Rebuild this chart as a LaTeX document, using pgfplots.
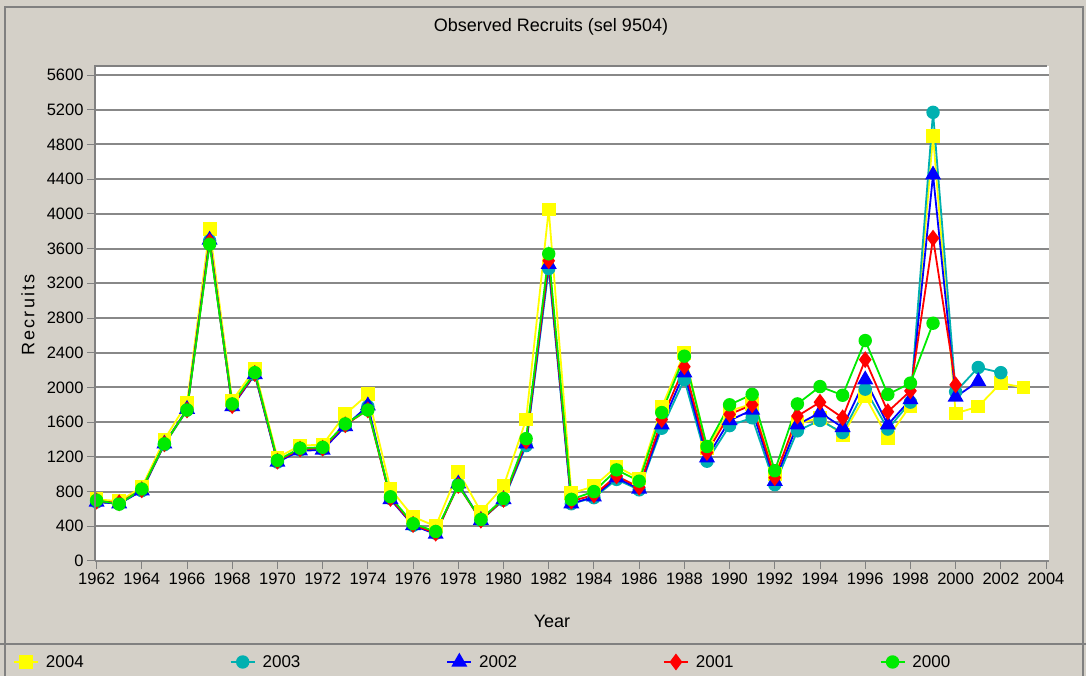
\documentclass[border=0pt]{standalone}
\usepackage{fontspec}
\setmainfont{Liberation Sans}
\usepackage{pgfplots}
\usepackage{pgfplotstable}
\pgfplotsset{compat=1.18}

\definecolor{panel}{RGB}{212,208,200}
\definecolor{framegray}{RGB}{128,128,128}
\definecolor{gridgray}{RGB}{136,136,136}
\definecolor{c04}{RGB}{255,255,0}
\definecolor{c03}{RGB}{0,176,176}
\definecolor{c02}{RGB}{0,0,255}
\definecolor{c01}{RGB}{255,0,0}
\definecolor{c00}{RGB}{0,235,0}

% observed recruits by assessment year (nan = not in that run)
\pgfplotstableread{
year y04  y03  y02  y01  y00
1962 710  680  680  690  700
1963 690  660  660  670  655
1964 850  810  810  820  830
1965 1400 1340 1350 1350 1350
1966 1820 1740 1750 1740 1740
1967 3830 3690 3700 3680 3650
1968 1850 1790 1780 1790 1810
1969 2210 2150 2150 2160 2170
1970 1190 1140 1140 1150 1160
1971 1330 1280 1270 1290 1300
1972 1340 1290 1280 1300 1310
1973 1690 1560 1550 1570 1580
1974 1920 1780 1790 1740 1740
1975 830  720  710  720  740
1976 510  410  410  420  430
1977 400  320  310  320  340
1978 1030 880  890  870  870
1979 570  470  470  470  480
1980 860  700  710  710  720
1981 1630 1330 1350 1380 1410
1982 4050 3370 3420 3460 3540
1983 780  660  660  690  710
1984 860  730  740  760  800
1985 1090 940  960  980  1050
1986 950  820  830  850  920
1987 1770 1530 1570 1630 1710
1988 2400 2090 2170 2240 2360
1989 1300 1150 1190 1250 1320
1990 1730 1560 1620 1690 1800
1991 1810 1650 1740 1800 1920
1992 1000 880  920  960  1040
1993 1580 1500 1570 1670 1810
1994 1650 1620 1710 1830 2010
1995 1450 1480 1540 1650 1910
1996 1900 1980 2090 2320 2540
1997 1420 1520 1570 1720 1920
1998 1790 1830 1860 1960 2050
1999 4900 5170 4450 3720 2740
2000 1700 1950 1890 2030 nan
2001 1780 2230 2070 nan  nan
2002 2050 2170 nan  nan  nan
2003 2000 nan  nan  nan  nan
}\recruits

\begin{document}
\begin{tikzpicture}
\fill[panel] (-95pt,-115pt) rectangle (991pt,561pt);
\useasboundingbox (-95pt,-115pt) rectangle (991pt,561pt);
\draw[framegray, line width=2pt] (-90pt,-116pt) -- (-90pt,554pt) -- (988pt,554pt) -- (988pt,-116pt);
\draw[framegray, line width=2pt] (-95pt,-83pt) -- (991pt,-83pt);
\begin{axis}[
    scale only axis,
    width=954pt, height=495pt,
    xmin=1961.93, xmax=2004.13,
    ymin=0, ymax=5704,
    xtick={1962,1964,...,2004},
    ytick={0,400,...,5600},
    xtick pos=left, ytick pos=left,
    tick align=outside,
    major tick length=8pt,
    tick style={framegray, line width=1pt},
    axis line style={draw=none},
    axis background/.style={fill=white},
    ymajorgrids,
    major grid style={gridgray, line width=2pt},
    /pgf/number format/1000 sep={},
    /pgf/number format/assume math mode=true,
    tick label style={font=\fontsize{16.5}{19}\selectfont},
    title={Observed Recruits (sel 9504)},
    title style={at={(axis description cs:0.478,1.0667)}, anchor=center, font=\fontsize{18}{21}\selectfont},
    xlabel={Year},
    xlabel style={at={(axis description cs:0.479,-0.1212)}, anchor=center, font=\fontsize{18}{21}\selectfont},
    ylabel={\addfontfeature{LetterSpace=12}Recruits},
    ylabel style={at={(axis description cs:-0.0702,0.497)}, anchor=center, font=\fontsize{18}{21}\selectfont},
    extra description/.code={
        \draw[framegray, line width=2pt] (axis description cs:0,0) -- (axis description cs:0,1) -- (axis description cs:0.998,1);
    },
    legend columns=5,
    legend style={at={(-0.0891,-0.204)}, anchor=west, draw=none, fill=none,
        font=\fontsize{17}{20}\selectfont,
        /tikz/every odd column/.append style={column sep=5pt},
        /tikz/every even column/.append style={column sep=144pt}},
    legend image code/.code={
        \draw[mark repeat=2, mark phase=2, #1] plot coordinates {(0pt,0pt) (12pt,0pt) (24pt,0pt)};
    },
    every axis plot/.append style={line width=1.8pt, mark options={solid, line width=0.4pt}},
]
\addplot[c04, mark=square*, mark size=6pt, mark options={fill=c04}] table[x=year, y=y04] {\recruits};
\addlegendentry{2004}
\addplot[c03, mark=*, mark size=5.8pt, mark options={fill=c03}] table[x=year, y=y03] {\recruits};
\addlegendentry{2003}
\addplot[c02, mark=triangle*, mark size=7.5pt, mark options={fill=c02}] table[x=year, y=y02] {\recruits};
\addlegendentry{2002}
\addplot[c01, mark=diamond*, mark size=7pt, mark options={fill=c01}] table[x=year, y=y01] {\recruits};
\addlegendentry{2001}
\addplot[c00, mark=*, mark size=5.8pt, mark options={fill=c00}] table[x=year, y=y00] {\recruits};
\addlegendentry{2000}
\end{axis}
\end{tikzpicture}
\end{document}
